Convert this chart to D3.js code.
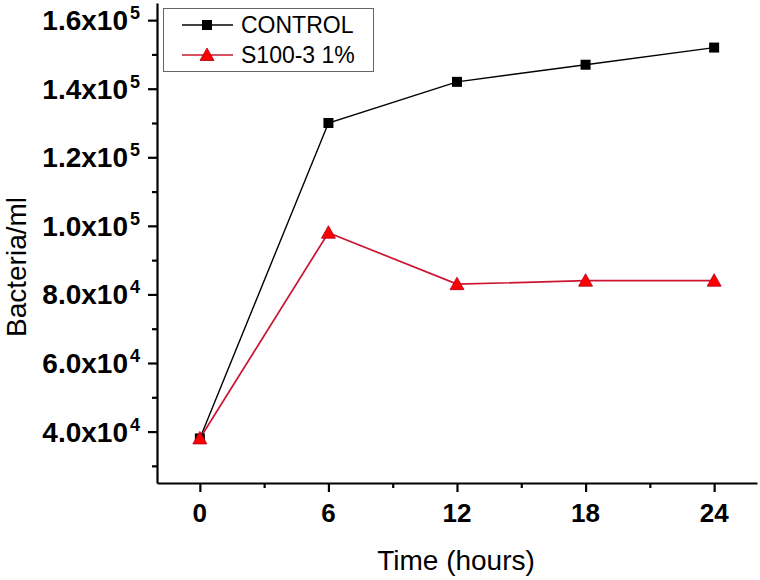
<!DOCTYPE html>
<html>
<head>
<meta charset="utf-8">
<script src="https://cdn.jsdelivr.net/npm/d3@7"></script>
<style>
  html, body { margin: 0; padding: 0; background: #fff; }
  svg { display: block; font-family: "Liberation Sans", Arial, sans-serif; }
</style>
</head>
<body>
<svg id="chart" width="760" height="580"></svg>
<script>
// ---- data ----
const hours = [0, 6, 12, 18, 24];
const controlValues = [38000, 130000, 142000, 147000, 152000];
const s100Values = [38000, 98000, 83000, 84000, 84000];
const seriesNames = ["CONTROL", "S100-3 1%"];
const xTicks = [0, 6, 12, 18, 24];
const xMinorTicks = [3, 9, 15, 21];
const yTicks = [40000, 60000, 80000, 100000, 120000, 140000, 160000];
const yMinorTicks = [30000, 50000, 70000, 90000, 110000, 130000, 150000];
const xTitle = "Time (hours)";
const yTitle = "Bacteria/ml";

(function () {
// ---- layout ----
const plotLeft = 157, plotRight = 757, plotTop = 3, plotBottom = 483;
const svg = d3.select("#chart");

const x = d3.scaleLinear().domain([-2, 26]).range([plotLeft, plotRight]);
const y = d3.scaleLinear().domain([25000, 165000]).range([plotBottom, plotTop]);

const red = "#cc1530";

// ---- axes ----
const xAxis = svg.append("g").attr("transform", `translate(0,${plotBottom})`)
  .call(d3.axisBottom(x).tickValues(xTicks).tickSize(9).tickSizeOuter(0).tickFormat(""));
const xMinor = svg.append("g").attr("transform", `translate(0,${plotBottom})`)
  .call(d3.axisBottom(x).tickValues(xMinorTicks).tickSize(5).tickSizeOuter(0).tickFormat(""));
const yAxis = svg.append("g").attr("transform", `translate(${plotLeft},0)`)
  .call(d3.axisLeft(y).tickValues(yTicks).tickSize(9).tickSizeOuter(0).tickFormat(""));
const yMinor = svg.append("g").attr("transform", `translate(${plotLeft},0)`)
  .call(d3.axisLeft(y).tickValues(yMinorTicks).tickSize(5).tickSizeOuter(0).tickFormat(""));

[xAxis, xMinor, yAxis, yMinor].forEach(g => {
  g.selectAll("path.domain").attr("stroke", "#000").attr("stroke-width", 2.2);
  g.selectAll(".tick line").attr("stroke", "#000").attr("stroke-width", 2.2);
});
xMinor.select("path.domain").remove();
yMinor.select("path.domain").remove();

// x tick labels
svg.append("g").selectAll("text").data(xTicks).join("text")
  .attr("x", d => x(d)).attr("y", 522)
  .attr("text-anchor", "middle")
  .attr("font-size", 26).attr("font-weight", "bold")
  .text(d => d);

// y tick labels with scientific notation
function sci(v) {
  const e = Math.floor(Math.log10(v));
  const m = (v / Math.pow(10, e)).toFixed(1);
  return { m, e };
}
svg.append("g").selectAll("text").data(yTicks).join("text")
  .attr("x", 128).attr("y", d => y(d) + 10)
  .attr("text-anchor", "end")
  .attr("font-size", 28).attr("font-weight", "bold")
  .text(d => sci(d).m + "x10");
svg.append("g").selectAll("text").data(yTicks).join("text")
  .attr("x", 130).attr("y", d => y(d) - 1)
  .attr("text-anchor", "start")
  .attr("font-size", 18).attr("font-weight", "bold")
  .text(d => sci(d).e);

// axis titles
svg.append("text").attr("x", 456).attr("y", 570)
  .attr("text-anchor", "middle").attr("font-size", 28)
  .text(xTitle);
svg.append("text")
  .attr("transform", `translate(26,267) rotate(-90)`)
  .attr("text-anchor", "middle").attr("font-size", 28)
  .text(yTitle);

// ---- series ----
const line = d3.line().x(d => x(d[0])).y(d => y(d[1]));
const controlData = hours.map((h, i) => [h, controlValues[i]]);
const s100Data = hours.map((h, i) => [h, s100Values[i]]);

svg.append("path").datum(controlData).attr("d", line)
  .attr("fill", "none").attr("stroke", "#000").attr("stroke-width", 1.4);
svg.append("path").datum(s100Data).attr("d", line)
  .attr("fill", "none").attr("stroke", red).attr("stroke-width", 1.7);

const tri = "M0,-7L7,5.5L-7,5.5Z";
svg.append("g").selectAll("rect").data(controlData).join("rect")
  .attr("x", d => x(d[0]) - 5).attr("y", d => y(d[1]) - 5)
  .attr("width", 10).attr("height", 10).attr("fill", "#000");
svg.append("g").selectAll("path").data(s100Data).join("path")
  .attr("d", tri)
  .attr("transform", d => `translate(${x(d[0])},${y(d[1])})`)
  .attr("fill", "#ff0000").attr("stroke", "#b00020").attr("stroke-width", 0.8);

// ---- legend ----
const lg = svg.append("g");
lg.append("rect").attr("x", 163.5).attr("y", 8.5).attr("width", 210).attr("height", 63)
  .attr("fill", "#fff").attr("stroke", "#666").attr("stroke-width", 1);
const rows = [25, 55];
seriesNames.forEach((name, i) => {
  const cy = rows[i];
  lg.append("line").attr("x1", 182).attr("x2", 233).attr("y1", cy).attr("y2", cy)
    .attr("stroke", i === 0 ? "#000" : red).attr("stroke-width", i === 0 ? 1.4 : 1.7);
  if (i === 0) {
    lg.append("rect").attr("x", 202).attr("y", cy - 5).attr("width", 10).attr("height", 10).attr("fill", "#000");
  } else {
    lg.append("path").attr("d", tri).attr("transform", `translate(207,${cy})`)
      .attr("fill", "#ff0000").attr("stroke", "#b00020").attr("stroke-width", 0.8);
  }
  lg.append("text").attr("x", 241).attr("y", cy + 8.3)
    .attr("font-size", 23).text(name);
});
})();
</script>
</body>
</html>
